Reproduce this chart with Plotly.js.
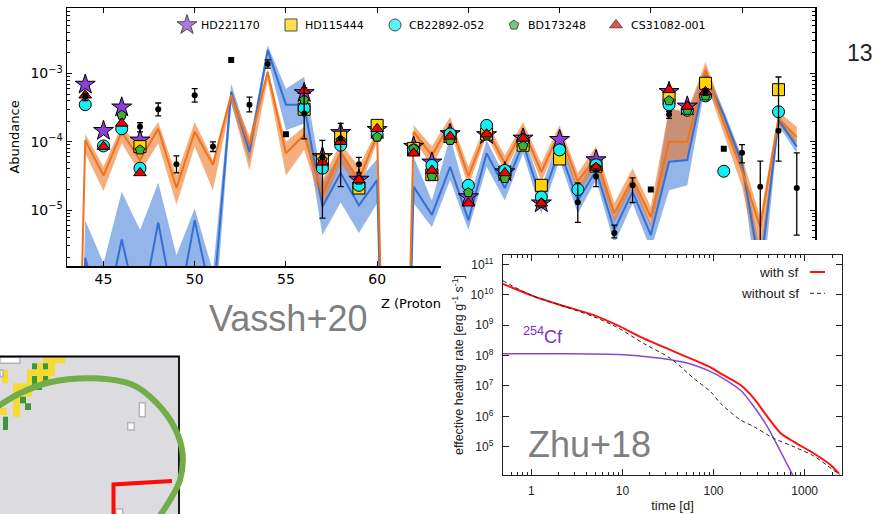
<!DOCTYPE html>
<html><head><meta charset="utf-8">
<script src="https://cdn.plot.ly/plotly-3.0.1.min.js"></script>
<style>
html,body{margin:0;padding:0;background:#fff;width:876px;height:514px;overflow:hidden;}
#top{position:absolute;left:0;top:0;width:876px;height:514px;}
#nuc{position:absolute;left:0;top:350px;width:192px;height:164px;}
#zhu{position:absolute;left:441px;top:240px;width:435px;height:274px;background:#fff;}
</style></head><body>
<div id="top"></div><div id="nuc"></div><div id="zhu"></div>
<script>
// ---------------- Top chart data (Vassh+20) ----------------
const zModel = [43,44,45,46,47,48,49,50,51,52,53,54,55,56,57,58,59,60,61,62,63,64,65,66,67,68,69,70,71,72,73,74,75,76,77,78,79,80,81,82,83];
const orangeMid = [1e-15,1.05e-4,3.2e-5,1.4e-4,5.4e-5,1.55e-4,2.1e-5,1.4e-4,4.6e-5,4.8e-4,8.9e-5,1.05e-3,6.8e-5,1.26e-4,1.66e-5,7.1e-5,2.75e-5,1.26e-4,1e-15,1.4e-4,6.3e-5,1.86e-4,3.1e-5,1.55e-4,4.8e-5,1.55e-4,3.6e-5,1.4e-4,2.6e-5,6.0e-5,8.9e-6,2.9e-5,7.9e-6,1.0e-4,1.0e-4,1.12e-3,1.86e-4,3.8e-5,5.6e-6,2.2e-4,1.17e-4];
const orangeHi = [1e-15,1.3e-4,4.3e-5,1.75e-4,7.9e-5,1.95e-4,3.2e-5,1.95e-4,5.4e-5,5.6e-4,1.2e-4,1.17e-3,1.0e-4,1.66e-4,2.75e-5,9.5e-5,4.3e-5,1.5e-4,1e-15,1.75e-4,8.5e-5,2.3e-4,4.3e-5,1.95e-4,6.3e-5,1.95e-4,4.8e-5,1.75e-4,3.5e-5,8.5e-5,1.26e-5,4.1e-5,1.12e-5,3.1e-4,2.8e-4,1.48e-3,2.6e-4,6.0e-5,7.9e-6,2.75e-4,1.66e-4];
const orangeLo = [1e-15,6.8e-5,1.9e-5,9.5e-5,3.5e-5,9.5e-5,1.2e-5,8.5e-5,1.95e-5,3.8e-4,3.8e-5,7.9e-4,3.2e-5,7.6e-5,1.12e-5,4.9e-5,1.95e-5,1.0e-4,1e-15,1.12e-4,4.3e-5,1.48e-4,2.2e-5,1.26e-4,3.6e-5,1.26e-4,2.6e-5,1.05e-4,1.74e-5,4.3e-5,6.5e-6,2.2e-5,5.6e-6,5.4e-5,5.6e-5,7.9e-4,1.3e-4,2.2e-5,1.26e-6,1.74e-4,9.5e-5];
const blueMid = [1e-15,2.0e-6,2e-7,3.7e-6,2.5e-7,6.6e-6,2.5e-7,7.1e-6,4e-7,5.4e-4,7.1e-5,2.2e-3,3.5e-4,3.5e-4,1.12e-5,3.5e-5,1.17e-5,2.75e-5,1e-15,2.2e-5,8.5e-6,4.3e-5,7.1e-6,6.8e-5,2.1e-5,9.5e-5,1.38e-5,7.6e-5,1.38e-5,3.8e-5,5.1e-6,1.86e-5,4.3e-6,5.1e-5,5.4e-5,9.5e-4,2.45e-4,4.8e-5,1.26e-6,2.1e-4,8.5e-5];
const blueHi = [1e-15,7.1e-6,1.66e-6,1.86e-5,5.1e-6,2.5e-5,2.2e-6,1.05e-5,1.26e-6,7.1e-4,1.0e-4,2.6e-3,6.0e-4,8.9e-4,2.45e-5,6.8e-5,2.75e-5,5.6e-5,1e-15,6.0e-5,1.38e-5,1.17e-4,1.26e-5,1.05e-4,3.1e-5,1.3e-4,2.2e-5,1.17e-4,2.2e-5,6.0e-5,7.9e-6,2.75e-5,6.3e-6,3.1e-4,2.6e-4,1.26e-3,2.9e-4,6.0e-5,2.5e-6,2.45e-4,1.05e-4];
const blueLo = [1e-15,3.2e-7,1e-7,6.3e-7,1e-7,1e-6,1e-7,1e-6,1e-7,3.6e-4,5.0e-5,1.66e-3,1.48e-4,1.86e-4,4.3e-6,1.29e-5,4.6e-6,1.26e-5,1e-15,1.26e-5,5.6e-6,2.75e-5,5.1e-6,4.3e-5,1.38e-5,6.8e-5,8.9e-6,5.4e-5,8.9e-6,2.75e-5,3.2e-6,1.26e-5,2.6e-6,1.95e-5,2.3e-5,7.1e-4,1.86e-4,3.5e-5,3.2e-7,1.74e-4,6.8e-5];

const zObs = [44,45,46,47,56,57,58,59,60,62,63,64,65,66,67,68,69,70,71,72,76,77,78,79,82];
const hd221170 = [6.9e-4,1.45e-4,3.2e-4,1.05e-4,5.2e-4,6.0e-5,1.35e-4,2.8e-5,1.5e-4,8.5e-5,5.0e-5,1.3e-4,1.55e-5,1.26e-4,3.6e-5,1.12e-4,1.26e-5,1.07e-4,null,5.4e-5,5.4e-4,3.3e-4,null,null,null];
const hd115444 = [null,null,null,8.5e-5,3.0e-4,5.4e-5,1.17e-4,2.1e-5,1.74e-4,8.0e-5,3.3e-5,1.2e-4,null,1.3e-4,3.6e-5,8.9e-5,2.3e-5,5.6e-5,null,4.4e-5,4.3e-4,null,7.2e-4,null,5.8e-4];
const cb22892 = [3.5e-4,8.7e-5,1.55e-4,4.1e-5,3.1e-4,4.1e-5,8.9e-5,2.3e-5,1.26e-4,7.6e-5,4.5e-5,1.3e-4,2.3e-5,1.74e-4,3.8e-5,1.05e-4,1.55e-5,7.6e-5,2.0e-5,4.6e-5,3.5e-4,2.9e-4,4.7e-4,3.7e-5,2.75e-4];
const bd173248 = [null,null,2.45e-4,7.6e-5,4.1e-4,5.4e-5,1.05e-4,2.75e-5,1.17e-4,7.9e-5,3.1e-5,1.05e-4,1.8e-5,1.26e-4,2.9e-5,8.7e-5,1.26e-5,null,null,4.2e-5,4.0e-4,2.9e-4,4.7e-4,null,null];
const cs31082 = [4.8e-4,8.5e-5,1.86e-4,3.5e-5,5.6e-4,5.0e-5,1.0e-4,2.75e-5,1.55e-4,6.8e-5,3.8e-5,1.2e-4,1.26e-5,1.29e-4,3.5e-5,1.12e-4,1.26e-5,null,null,4.2e-5,5.8e-4,3.3e-4,5.4e-4,null,null];
const starNames = ['HD221170','HD115444','CB22892-052','BD173248','CS31082-001'];

const solarZ = [44,47,48,49,50,51,53,54,56,57,58,59,71,72,73,74,76,78,80,81,82,83];
const solarVal = [4.6e-4,1.66e-4,3.0e-4,4.7e-5,4.8e-4,8.5e-5,3.5e-4,1.38e-3,2.6e-4,6.0e-5,1.12e-4,4.7e-5,1.3e-5,3.1e-5,4.6e-6,2.3e-5,2.5e-4,5.4e-4,6.9e-5,2.2e-5,1.45e-4,2.1e-5];
const solarHi = [5.1e-4,1.9e-4,3.7e-4,6.2e-5,6.0e-4,1.0e-4,4.5e-4,1.58e-3,6.2e-4,1.05e-4,1.86e-4,5.9e-5,2.5e-5,4.0e-5,6.0e-6,2.95e-5,2.8e-4,6.0e-4,9.1e-5,5.2e-5,8.9e-4,6.9e-5];
const solarLo = [4.0e-4,1.4e-4,2.4e-4,3.5e-5,3.8e-4,7.2e-5,2.75e-4,1.2e-3,1.1e-4,7.6e-6,2.2e-5,3.5e-5,6.6e-6,2.2e-5,3.9e-6,1.29e-5,2.2e-4,4.8e-4,4.9e-5,3e-7,5.2e-5,4.3e-6];
const solarSqZ = [52,55,75,79];
const solarSqVal = [1.58e-3,1.29e-4,2.0e-5,7.9e-5];

const yTickVals = [1e-5,1e-4,1e-3];
const yTickText = ['10<sup>\u22125</sup>','10<sup>\u22124</sup>','10<sup>\u22123</sup>'];
const xTickVals = [45,50,55,60,65,70,75,80];
const xTitleVisible = 'Z (Proton';

// ---------------- Zhu+18 data ----------------
const tWithSf = [0.488,1,2.08,4.84,8.74,17.1,39.9,92.7,119,198,277,389,545,763,1265,1930,2380];
const rateWithSf = [2.3e10,9.6e9,4.6e9,2.15e9,1.0e9,3.7e8,1.23e8,4.1e7,2.6e7,1.07e7,3.9e6,9.8e5,2.8e5,1.45e5,6.0e4,2.5e4,1.3e4];
const tWithoutSf = [0.488,1,2.08,4.84,8.74,17.1,33.6,60.6,92.7,119,198,277,457,763,1265,2070,2460];
const rateWithoutSf = [2.9e10,9.6e9,4.6e9,1.9e9,8.5e8,2.5e8,8.1e7,1.78e7,6.5e6,2.7e6,7.6e5,4.6e5,1.9e5,1.0e5,4.9e4,1.7e4,1.2e4];
const tCf = [0.488,2.08,11.3,26.1,39.9,60.7,92.7,119,198,277,389,545,760];
const rateCf = [1.15e8,1.15e8,1.05e8,8.1e7,6.6e7,4.9e7,2.95e7,2.0e7,7.2e6,2.1e6,4.6e5,6.9e4,1.0e4];
const zhuXTicks = [1,10,100,1000];
const zhuXText = ['1','10','100','1000'];
const zhuYTicks = [1e5,1e6,1e7,1e8,1e9,1e10,1e11];
const zhuYText = ['10<sup>5</sup>','10<sup>6</sup>','10<sup>7</sup>','10<sup>8</sup>','10<sup>9</sup>','10<sup>10</sup>','10<sup>11</sup>'];

// ---------------- styles ----------------
const MPL = 'DejaVu Sans, sans-serif';
const GP = 'Liberation Sans, Arial, sans-serif';
const ORANGE = 'rgb(240,115,25)', ORANGE_F = 'rgba(238,120,40,0.6)';
const BLUE = 'rgb(50,112,212)', BLUE_F = 'rgba(60,120,215,0.55)';
const starStyle = [
  {symbol:'star', size:15, color:'#8c3fd8'},
  {symbol:'square', size:12, color:'#ffd200'},
  {symbol:'circle', size:12, color:'#10f0f0'},
  {symbol:'pentagon', size:10, color:'#37b437'},
  {symbol:'triangle-up', size:11, color:'#f00000'}
];
const starData = [hd221170, hd115444, cb22892, bd173248, cs31082];

function minorLog(lo, hi){ const v=[]; for(let e=lo;e<=hi;e++){ for(let m=2;m<=9;m++) v.push(m*Math.pow(10,e)); } return v; }

// ---------------- top figure ----------------
const L = 67, R = 815, T = 8, B = 266;
const traces = [];
traces.push({x:zModel, y:blueLo, mode:'lines', line:{width:0}, hoverinfo:'skip', showlegend:false});
traces.push({x:zModel, y:blueHi, mode:'lines', line:{width:0}, fill:'tonexty', fillcolor:BLUE_F, hoverinfo:'skip', showlegend:false});
traces.push({x:zModel, y:orangeLo, mode:'lines', line:{width:0}, hoverinfo:'skip', showlegend:false});
traces.push({x:zModel, y:orangeHi, mode:'lines', line:{width:0}, fill:'tonexty', fillcolor:ORANGE_F, hoverinfo:'skip', showlegend:false});
traces.push({x:zModel, y:blueMid, mode:'lines', line:{color:BLUE, width:2}, showlegend:false});
traces.push({x:zModel, y:orangeMid, mode:'lines', line:{color:ORANGE, width:2}, showlegend:false});
starData.forEach((d,i)=>{
  traces.push({x:zObs, y:d, mode:'markers', name:starNames[i], showlegend:false,
    marker:{symbol:starStyle[i].symbol, size:starStyle[i].size, color:starStyle[i].color, line:{color:'black', width:1}}});
});
traces.push({x:solarZ, y:solarVal, mode:'markers', showlegend:false,
  marker:{symbol:'circle', size:6, color:'black'},
  error_y:{type:'data', symmetric:false, array:solarHi.map((h,i)=>h-solarVal[i]), arrayminus:solarVal.map((v,i)=>v-solarLo[i]), color:'black', thickness:1.3, width:3}});
traces.push({x:solarSqZ, y:solarSqVal, mode:'markers', showlegend:false, marker:{symbol:'square', size:6, color:'black'}});

// custom legend (positions in px of the page)
const legSym = [187,291,395,514,616], legTxt = [199,303,407,526,629], legY = 25;
const fx = p => (p-L)/(R-L), fy = p => (B-p)/(B-T);
traces.push({x:legSym.map(fx), y:legSym.map(()=>fy(legY)), xaxis:'x2', yaxis:'y2', mode:'markers', showlegend:false, hoverinfo:'skip',
  marker:{symbol:starStyle.map(s=>s.symbol), size:starStyle.map(s=>s.size), color:starStyle.map(s=>s.color), line:{color:'black', width:1}}});

const annotsTop = starNames.map((n,i)=>({xref:'paper', yref:'paper', x:fx(legTxt[i]), y:fy(legY), xanchor:'left', yanchor:'middle', text:n, showarrow:false, font:{family:MPL, size:11, color:'black'}}));
annotsTop.push({xref:'paper', yref:'paper', x:fx(379), y:fy(303), xanchor:'left', yanchor:'middle', text:xTitleVisible, showarrow:false, font:{family:MPL, size:13, color:'black'}});
annotsTop.push({xref:'paper', yref:'paper', x:fx(287.5), y:fy(318), xanchor:'center', yanchor:'middle', text:'Vassh+20', showarrow:false, font:{family:GP, size:36, color:'#7f7f7f'}});
annotsTop.push({xref:'paper', yref:'paper', x:fx(860), y:fy(53), xanchor:'center', yanchor:'middle', text:'13', showarrow:false, font:{family:GP, size:23, color:'#222'}});

const axCommon = {showline:true, linecolor:'black', linewidth:1.5, mirror:'allticks', ticks:'inside', ticklen:5, tickwidth:1, tickcolor:'black', showgrid:false, zeroline:false};
Plotly.newPlot('top', traces, {
  width:876, height:514, margin:{l:L, r:876-R, t:T, b:514-B}, paper_bgcolor:'rgba(0,0,0,0)', plot_bgcolor:'white', showlegend:false,
  xaxis:Object.assign({}, axCommon, {range:[43,84], tickmode:'array', tickvals:xTickVals, tickfont:{family:MPL, size:14, color:'black'}}),
  yaxis:Object.assign({}, axCommon, {type:'log', range:[-5.82,-2.04], tickmode:'array', tickvals:yTickVals, ticktext:yTickText,
    tickfont:{family:MPL, size:14, color:'black'}, minor:{tickmode:'array', tickvals:minorLog(-6,-3), ticks:'inside', ticklen:3, tickcolor:'black', showgrid:false},
    title:{text:'Abundance', font:{family:MPL, size:13, color:'black'}, standoff:8}}),
  xaxis2:{overlaying:'x', anchor:'y2', range:[0,1], visible:false},
  yaxis2:{overlaying:'y', anchor:'x2', range:[0,1], visible:false},
  annotations:annotsTop
}, {staticPlot:true});

// ---------------- nuclear chart fragment ----------------
const yellowCells = [[43,357,65,363.3],[37,363.3,55,369.3],[27,369.3,55,376],[27,376,50,383.3],[13,383.3,42,390],[13,390,32,396.7],[13,396.7,26,403.3],[13,403.3,20,410],[13,410,20,416.7],[2,370,8,383.3],[0,408,7,415]];
const greenCells = [[32,363.3,37,369.3],[43,363.3,48,369.3],[32,376,37,383.3],[43,376,48,383.3],[32,383.3,42,390],[20,396.7,26,403.3],[25,403.3,31,410],[3,416.7,8,430]];
const openCells = [[139.3,402.7,145.3,416.7],[127.7,422.7,134.3,430],[116,509,122.7,516],[0,357,20,363.3],[0,370,3,376.7]];
const arcX = [-6,0,20,50,93,133,157,175,182.5,180,170,157];
const arcY = [409,405,393.3,382.3,378.3,385,403.3,428.3,453.3,480,500,520];
const redX = [113.5,113.5,172];
const redY = [516,484.5,481];
const nucShapes = [{type:'rect', xref:'x', yref:'y', x0:0, x1:179, y0:356.5, y1:514, fillcolor:'#dcdce0', line:{width:0}, layer:'below'}];
yellowCells.forEach(c=>nucShapes.push({type:'rect', x0:c[0], y0:c[1], x1:c[2], y1:c[3], fillcolor:'#f6d935', line:{width:0}, layer:'below'}));
greenCells.forEach(c=>nucShapes.push({type:'rect', x0:c[0], y0:c[1], x1:c[2], y1:c[3], fillcolor:'#3a983a', line:{width:0}, layer:'below'}));
openCells.forEach(c=>nucShapes.push({type:'rect', x0:c[0], y0:c[1], x1:c[2], y1:c[3], fillcolor:'white', line:{width:1.5, color:'#b4b4b4'}, layer:'below'}));
nucShapes.push({type:'line', x0:0, x1:179.8, y0:356.6, y1:356.6, line:{color:'black', width:2}, layer:'below'});
nucShapes.push({type:'line', x0:179, x1:179, y0:356.6, y1:516, line:{color:'black', width:1.8}, layer:'below'});
Plotly.newPlot('nuc', [
  {x:arcX, y:arcY, mode:'lines', line:{color:'#72ad4a', width:6, shape:'spline', smoothing:1}},
  {x:redX, y:redY, mode:'lines', line:{color:'#ff0a0a', width:4}}
], {
  width:192, height:164, margin:{l:0,r:0,t:0,b:0}, paper_bgcolor:'rgba(0,0,0,0)', plot_bgcolor:'rgba(0,0,0,0)', showlegend:false,
  xaxis:{range:[0,192], visible:false}, yaxis:{range:[514,350], visible:false}, shapes:nucShapes
}, {staticPlot:true});

// ---------------- Zhu+18 figure ----------------
const ZL = 62, ZR = 401, ZT = 15, ZB = 235;
const zfx = p => (p-441-ZL)/(ZR-ZL), zfy = p => (ZB-(p-240))/(ZB-ZT);
const zAx = {showline:true, linecolor:'#222', linewidth:1.3, mirror:'allticks', ticks:'inside', ticklen:6, tickwidth:1, tickcolor:'#222', showgrid:false, zeroline:false};
Plotly.newPlot('zhu', [
  {x:tCf, y:rateCf, mode:'lines', line:{color:'#8b48c8', width:1.5, shape:'spline', smoothing:0.8}},
  {x:tWithSf, y:rateWithSf, mode:'lines', name:'with sf', line:{color:'#ff1010', width:2, shape:'spline', smoothing:0.8}},
  {x:tWithoutSf, y:rateWithoutSf, mode:'lines', name:'without sf', line:{color:'#222', width:1, dash:'4px,3px', shape:'spline', smoothing:0.8}}
], {
  width:435, height:274, margin:{l:ZL, r:435-ZR, t:ZT, b:274-ZB}, paper_bgcolor:'white', plot_bgcolor:'white', showlegend:false,
  xaxis:Object.assign({}, zAx, {type:'log', range:[-0.311,3.41], tickmode:'array', tickvals:zhuXTicks, ticktext:zhuXText,
    minor:{tickmode:'array', tickvals:minorLog(-1,3), ticks:'inside', ticklen:3, tickcolor:'#222', showgrid:false},
    tickfont:{family:GP, size:12, color:'#222'}, ticklabelstandoff:4,
    title:{text:'time [d]', font:{family:GP, size:13, color:'#222'}, standoff:4}}),
  yaxis:Object.assign({}, zAx, {type:'log', range:[4.07,11.31], tickmode:'array', tickvals:zhuYTicks, ticktext:zhuYText,
    tickfont:{family:GP, size:12, color:'#222'}, ticklabelstandoff:6,
    title:{text:'effective heating rate [erg g<sup>-1</sup> s<sup>-1</sup>]', font:{family:GP, size:12.5, color:'#222'}, standoff:4}}),
  annotations:[
    {xref:'paper', yref:'paper', x:zfx(801), y:zfy(272), xanchor:'right', yanchor:'middle', text:'with sf', showarrow:false, font:{family:GP, size:13.5, color:'#222'}},
    {xref:'paper', yref:'paper', x:zfx(801), y:zfy(293.3), xanchor:'right', yanchor:'middle', text:'without sf', showarrow:false, font:{family:GP, size:13.5, color:'#222'}},
    {xref:'paper', yref:'paper', x:zfx(521), y:zfy(335), xanchor:'left', yanchor:'middle', text:'<sup>254</sup>Cf', showarrow:false, font:{family:GP, size:18, color:'#7b2fbe'}},
    {xref:'paper', yref:'paper', x:zfx(526), y:zfy(444), xanchor:'left', yanchor:'middle', text:'Zhu+18', showarrow:false, font:{family:GP, size:36, color:'#7f7f7f'}}
  ],
  shapes:[
    {type:'line', xref:'paper', yref:'paper', x0:zfx(810), x1:zfx(825), y0:zfy(272), y1:zfy(272), line:{color:'#ff1010', width:2}},
    {type:'line', xref:'paper', yref:'paper', x0:zfx(810), x1:zfx(825), y0:zfy(293.3), y1:zfy(293.3), line:{color:'#222', width:1, dash:'4px,3px'}}
  ]
}, {staticPlot:true});
</script></body></html>
